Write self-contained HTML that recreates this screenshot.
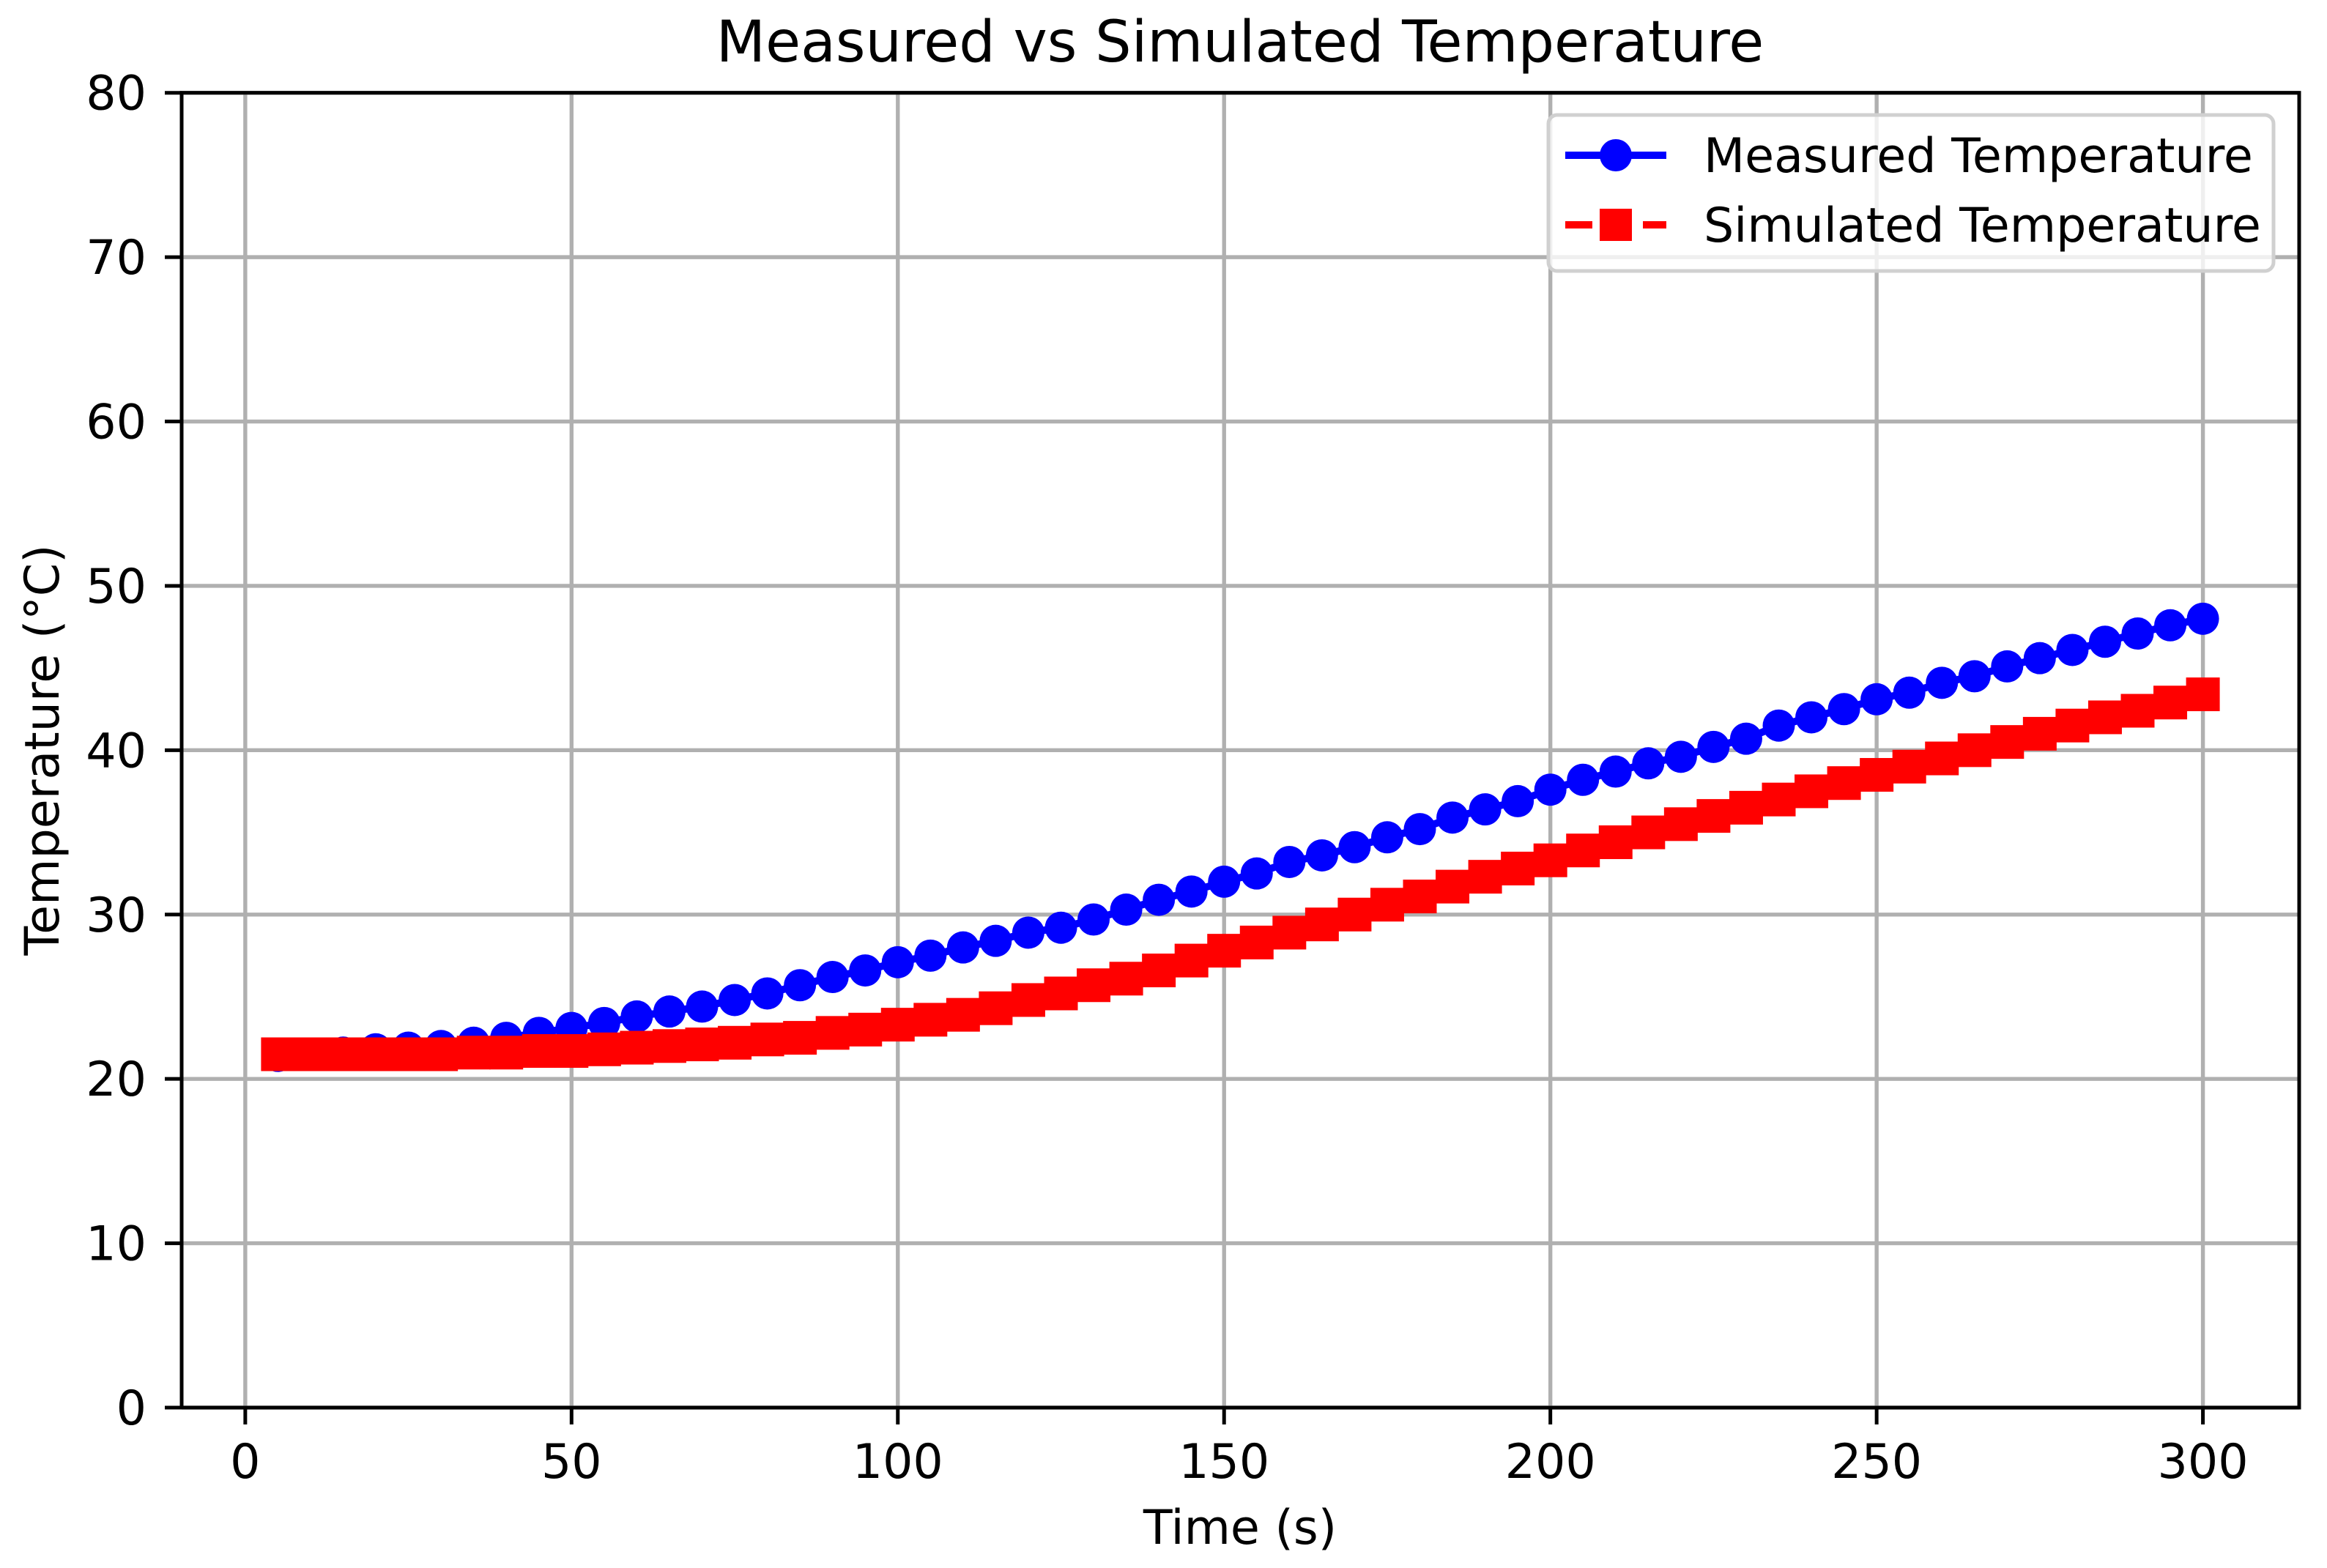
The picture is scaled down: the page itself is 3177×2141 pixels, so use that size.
<!DOCTYPE html>
<html><head><meta charset="utf-8"><style>
html,body{margin:0;padding:0;background:#fff;}
svg{display:block;font-family:"DejaVu Sans","Liberation Sans",sans-serif;}
</style></head><body>
<svg id="chart" width="3177" height="2141" viewBox="0 0 3177 2141" xmlns="http://www.w3.org/2000/svg">
<rect width="3177" height="2141" fill="#fff"/>
<text x="1693" y="84" font-size="78" text-anchor="middle">Measured vs Simulated Temperature</text>
<g id="grid"></g>
<g id="series"></g>
<rect x="248" y="126.7" width="2891" height="1795.3" fill="none" stroke="#000" stroke-width="5"/>
<g id="ticks"></g>
<text x="1693" y="2108" font-size="65" text-anchor="middle">Time (s)</text>
<text x="0" y="0" font-size="65" text-anchor="middle" transform="translate(80,1024) rotate(-90)">Temperature (°C)</text>
<g>
<rect x="2114" y="157" width="990" height="213" rx="12" fill="#fff" fill-opacity="0.8" stroke="#d0d0d0" stroke-width="5"/>
<g>
<line x1="2137" y1="212" x2="2275" y2="212" stroke="#0000ff" stroke-width="10"/>
<circle cx="2206" cy="212" r="22" fill="#0000ff"/>
<text x="2326" y="235" font-size="65">Measured Temperature</text>
</g>
<g>
<line x1="2137" y1="307" x2="2275" y2="307" stroke="#ff0000" stroke-width="10" stroke-dasharray="37 16"/>
<rect x="2184" y="285" width="44" height="44" fill="#ff0000"/>
<text x="2326" y="330" font-size="65">Simulated Temperature</text>
</g>
</g>
</svg>
<script>
const times = [5,10,15,20,25,30,35,40,45,50,55,60,65,70,75,80,85,90,95,100,105,110,115,120,125,130,135,140,145,150,155,160,165,170,175,180,185,190,195,200,205,210,215,220,225,230,235,240,245,250,255,260,265,270,275,280,285,290,295,300];
const measured = [21.4,21.5,21.6,21.8,21.9,22.0,22.2,22.5,22.8,23.1,23.4,23.8,24.1,24.4,24.8,25.2,25.7,26.2,26.6,27.1,27.5,28.0,28.4,28.9,29.2,29.7,30.3,30.9,31.4,32.0,32.5,33.2,33.6,34.1,34.7,35.2,35.9,36.4,36.9,37.6,38.2,38.7,39.2,39.6,40.2,40.7,41.5,42.0,42.5,43.1,43.5,44.1,44.5,45.1,45.6,46.1,46.6,47.1,47.6,48.0];
const simulated = [21.5,21.5,21.5,21.5,21.5,21.5,21.6,21.6,21.7,21.7,21.8,21.9,22.0,22.1,22.2,22.4,22.5,22.8,23.0,23.3,23.6,23.9,24.3,24.8,25.2,25.7,26.1,26.6,27.2,27.8,28.3,28.9,29.4,30.0,30.6,31.1,31.7,32.3,32.8,33.3,33.9,34.4,35.0,35.5,36.0,36.5,37.0,37.5,38.0,38.5,39.0,39.5,40.0,40.5,41.0,41.5,42.0,42.4,42.9,43.4];
const xTicks = [0,50,100,150,200,250,300];
const yTicks = [0,10,20,30,40,50,60,70,80];

const NS = "http://www.w3.org/2000/svg";
const L = 248, R = 3139, T = 126.7, B = 1922;
const xMin = -9.75, xMax = 314.75, yMin = 0, yMax = 80;
function xs(v){ return L + (v - xMin) / (xMax - xMin) * (R - L); }
function ys(v){ return B - (v - yMin) / (yMax - yMin) * (B - T); }
function mk(tag, attrs, parent){
  const e = document.createElementNS(NS, tag);
  for (const k in attrs) e.setAttribute(k, attrs[k]);
  parent.appendChild(e);
  return e;
}
const grid = document.getElementById('grid');
const ticks = document.getElementById('ticks');
xTicks.forEach(function(t){
  const x = xs(t);
  const g = mk('line', {x1:x, y1:T, x2:x, y2:B, stroke:'#b0b0b0', 'stroke-width':5.4}, grid);
  
  
  const tk = mk('line', {x1:x, y1:B, x2:x, y2:B + 23, stroke:'#000', 'stroke-width':5}, ticks);
  
  
  const lb = mk('text', {x:x, y:2018, 'font-size':65, 'text-anchor':'middle'}, ticks);
  lb.textContent = String(t);
  
  
});
yTicks.forEach(function(t){
  const y = ys(t);
  const g = mk('line', {x1:L, y1:y, x2:R, y2:y, stroke:'#b0b0b0', 'stroke-width':5.4}, grid);
  
  
  const tk = mk('line', {x1:L - 23, y1:y, x2:L, y2:y, stroke:'#000', 'stroke-width':5}, ticks);
  
  
  const lb = mk('text', {x:200, y:y + 23, 'font-size':65, 'text-anchor':'end'}, ticks);
  lb.textContent = String(t);
  
  
});
const series = document.getElementById('series');
function pts(arr){ return times.map(function(t, i){ return xs(t) + ',' + ys(arr[i]); }).join(' '); }
const ml = mk('polyline', {points:pts(measured), fill:'none', stroke:'#0000ff', 'stroke-width':10}, series);


times.forEach(function(t, i){
  const c = mk('circle', {cx:xs(t), cy:ys(measured[i]), r:22, fill:'#0000ff'}, series);
  
  
});
const sl = mk('polyline', {points:pts(simulated), fill:'none', stroke:'#ff0000', 'stroke-width':10, 'stroke-dasharray':'37 16'}, series);


times.forEach(function(t, i){
  const s = mk('rect', {x:xs(t) - 23, y:ys(simulated[i]) - 23, width:46, height:46, fill:'#ff0000'}, series);
  
  
});
</script>
</body></html>
